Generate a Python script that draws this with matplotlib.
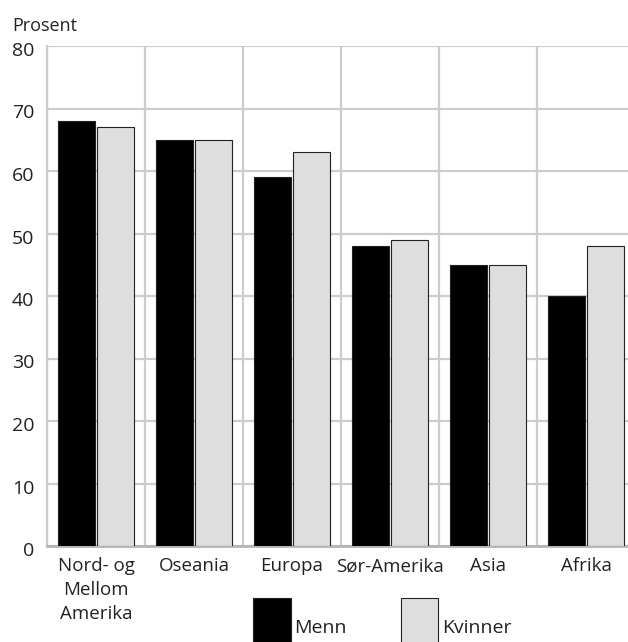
import matplotlib
matplotlib.use("Agg")
import matplotlib.pyplot as plt
from matplotlib.patches import Rectangle
from matplotlib.transforms import ScaledTranslation
import numpy as np

plt.rcParams['font.family'] = ['Open Sans', 'DejaVu Sans']

categories = ["Nord- og\nMellom\nAmerika", "Oseania", "Europa", "Sør-Amerika", "Asia", "Afrika"]
menn = [68, 65, 59, 48, 45, 40]
kvinner = [67, 65, 63, 49, 45, 48]
yticks = [0, 10, 20, 30, 40, 50, 60, 70, 80]

W, H = 628, 642
fig = plt.figure(figsize=(W / 100, H / 100), dpi=100)
ax = fig.add_axes([47 / W, 1 - 546 / H, (635 - 47) / W, 500 / H])

x = np.arange(len(categories))
bw = 0.37
ax.bar(x - 0.2, menn, width=bw, color="black", edgecolor="#222222", linewidth=0.8, zorder=3)
ax.bar(x + 0.2, kvinner, width=bw, color="#dedede", edgecolor="#222222", linewidth=0.8, zorder=3)

ax.set_xlim(-0.5, len(categories) - 0.5)
ax.set_ylim(0, 80)
ax.set_yticks(yticks)
ax.set_yticklabels([str(v) for v in yticks], fontsize=14)
ax.set_xticks(x)
ax.set_xticklabels(categories, fontsize=13.5, linespacing=1.42, va="top")
ax.set_xticks(np.arange(-0.5, len(categories), 1.0), minor=True)
ax.tick_params(axis="both", which="both", length=0)
ax.tick_params(axis="y", pad=9, colors="#222222")
ax.tick_params(axis="x", pad=8, colors="#222222")
for lab in ax.get_yticklabels():
    lab.set_transform(lab.get_transform() + ScaledTranslation(0, -0.03, fig.dpi_scale_trans))

ax.grid(axis="y", color="#cccccc", linewidth=1.6, zorder=0)
ax.grid(axis="x", which="minor", color="#cccccc", linewidth=1.6, zorder=0)
ax.grid(axis="x", which="major", visible=False)
for s in ["top", "right"]:
    ax.spines[s].set_visible(False)
ax.spines["left"].set_color("#cccccc")
ax.spines["left"].set_linewidth(1.6)
ax.spines["bottom"].set_color("#b5b5b5")
ax.spines["bottom"].set_linewidth(2)

fig.text(12 / W, 1 - 31 / H, "Prosent", fontsize=13, color="#222222", ha="left", va="baseline")

def px(xp, yp):
    return (xp / W, 1 - yp / H)

r1 = Rectangle(px(253, 650), 38 / W, 52 / H, transform=fig.transFigure,
               facecolor="black", edgecolor="#222222", linewidth=0.8, clip_on=False)
r2 = Rectangle(px(401, 650), 37 / W, 52 / H, transform=fig.transFigure,
               facecolor="#dedede", edgecolor="#222222", linewidth=0.8, clip_on=False)
fig.patches.extend([r1, r2])
fig.text(*px(294, 633), "Menn", fontsize=14, color="#222222", ha="left", va="baseline")
fig.text(*px(442, 633), "Kvinner", fontsize=14, color="#222222", ha="left", va="baseline")

fig.savefig("out.png", dpi=100)
